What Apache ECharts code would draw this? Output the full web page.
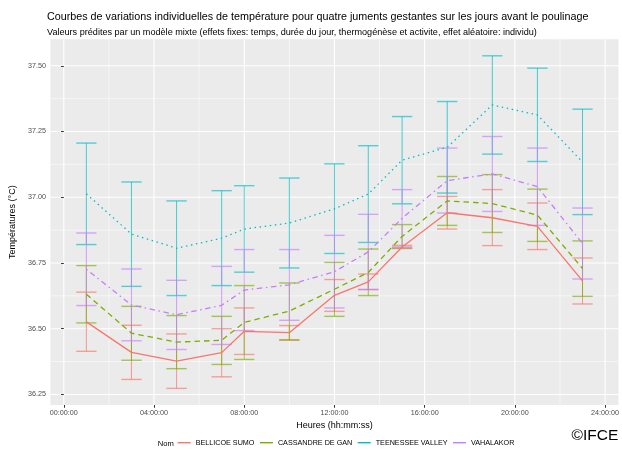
<!DOCTYPE html>
<html>
<head>
<meta charset="utf-8">
<script src="https://cdn.jsdelivr.net/npm/echarts@6/dist/echarts.min.js"></script>
<style>
html,body{margin:0;padding:0;background:#fff;}
#chart{width:622px;height:450px;}
</style>
</head>
<body>
<div id="chart"></div>
<script>
// ---- data ----
const times = [1, 3, 5, 7, 8, 10, 12, 13.5, 15, 17, 19, 21, 23];
const seriesNames = ['BELLICOE SUMO', 'CASSANDRE DE GAN', 'TEENESSEE VALLEY', 'VAHALAKOR'];

const bellicoeMean = [36.526, 36.410, 36.377, 36.409, 36.490, 36.485, 36.627, 36.678, 36.811, 36.941, 36.922, 36.889, 36.682];
const bellicoeLow  = [36.414, 36.307, 36.273, 36.317, 36.402, 36.456, 36.566, 36.649, 36.805, 36.879, 36.816, 36.801, 36.594];
const bellicoeHigh = [36.639, 36.513, 36.480, 36.500, 36.579, 36.512, 36.687, 36.708, 36.817, 37.003, 37.029, 36.978, 36.769];

const cassandreMean = [36.631, 36.483, 36.449, 36.456, 36.524, 36.567, 36.650, 36.714, 36.851, 36.986, 36.976, 36.932, 36.729];
const cassandreLow  = [36.522, 36.380, 36.348, 36.364, 36.383, 36.458, 36.547, 36.626, 36.807, 36.893, 36.866, 36.832, 36.623];
const cassandreHigh = [36.740, 36.585, 36.550, 36.547, 36.664, 36.674, 36.752, 36.803, 36.896, 37.079, 37.086, 37.031, 36.834];

const teenesseeMean = [37.013, 36.860, 36.806, 36.844, 36.879, 36.902, 36.956, 37.012, 37.141, 37.190, 37.351, 37.313, 37.134];
const teenesseeLow  = [36.820, 36.661, 36.626, 36.664, 36.715, 36.731, 36.786, 36.828, 36.975, 37.016, 37.164, 37.136, 36.934];
const teenesseeHigh = [37.206, 37.058, 36.986, 37.025, 37.044, 37.073, 37.127, 37.196, 37.307, 37.364, 37.538, 37.491, 37.335];

const vahalakorMean = [36.726, 36.590, 36.553, 36.589, 36.647, 36.667, 36.717, 36.792, 36.920, 37.063, 37.089, 37.040, 36.824];
const vahalakorLow  = [36.588, 36.454, 36.421, 36.440, 36.493, 36.532, 36.579, 36.649, 36.811, 36.940, 36.946, 36.893, 36.689];
const vahalakorHigh = [36.864, 36.727, 36.684, 36.737, 36.801, 36.801, 36.855, 36.935, 37.029, 37.187, 37.231, 37.187, 36.959];

const xTicks = [0, 4, 8, 12, 16, 20, 24];
const xTickLabels = ['00:00:00', '04:00:00', '08:00:00', '12:00:00', '16:00:00', '20:00:00', '24:00:00'];
const xMinor = [2, 6, 10, 14, 18, 22];
const yTicks = [36.25, 36.5, 36.75, 37.0, 37.25, 37.5];
const yTickLabels = ['36.25', '36.50', '36.75', '37.00', '37.25', '37.50'];
const yMinor = [36.375, 36.625, 36.875, 37.125, 37.375];

const titleText = 'Courbes de variations individuelles de température pour quatre juments gestantes sur les jours avant le poulinage';
const subtitleText = 'Valeurs prédites par un modèle mixte (effets fixes: temps, durée du jour, thermogénèse et activite, effet aléatoire: individu)';
const xTitle = 'Heures (hh:mm:ss)';
const yTitle = 'Températures (°C)';
const legendTitle = 'Nom';
const credit = '©IFCE';

// ---- styling ----
const FONT = '"Liberation Sans", Arial, sans-serif';
const colors = ['#F8766D', '#7CAE00', '#00BFC4', '#C77CFF'];
const dashes = [null, [5.5, 4], [1.5, 3.6], [1.5, 3.6, 5.5, 3.6]];
const capHalf = 0.45;
const X_MIN = -0.595, X_MAX = 24.595;
const Y_MIN = 36.2098, Y_MAX = 37.6007;

const means = [bellicoeMean, cassandreMean, teenesseeMean, vahalakorMean];
const lows = [bellicoeLow, cassandreLow, teenesseeLow, vahalakorLow];
const highs = [bellicoeHigh, cassandreHigh, teenesseeHigh, vahalakorHigh];

const chart = echarts.init(document.getElementById('chart'), null, {renderer: 'canvas'});

function gridV(params, api) {
  const cs = params.coordSys;
  const x = api.coord([api.value(0), Y_MIN])[0];
  const major = api.value(1) === 1;
  return {type: 'line', shape: {x1: x, y1: cs.y, x2: x, y2: cs.y + cs.height},
    style: {stroke: '#ffffff', lineWidth: major ? 1.1 : 0.55}, silent: true};
}
function gridH(params, api) {
  const cs = params.coordSys;
  const y = api.coord([X_MIN, api.value(1)])[1];
  const major = api.value(0) === 1;
  return {type: 'line', shape: {x1: cs.x, y1: y, x2: cs.x + cs.width, y2: y},
    style: {stroke: '#ffffff', lineWidth: major ? 1.1 : 0.55}, silent: true};
}
function makeErrRender(color) {
  return function (params, api) {
    const t = api.value(0), lo = api.value(1), hi = api.value(2);
    const pTop = api.coord([t, hi]);
    const pBot = api.coord([t, lo]);
    const xl = api.coord([t - capHalf, hi])[0];
    const xr = api.coord([t + capHalf, hi])[0];
    const st = {stroke: color, lineWidth: 1, opacity: 0.72};
    const stc = {stroke: color, lineWidth: 1.4, opacity: 0.65};
    return {type: 'group', children: [
      {type: 'line', shape: {x1: pTop[0], y1: pTop[1], x2: pBot[0], y2: pBot[1]}, style: st},
      {type: 'line', shape: {x1: xl, y1: pTop[1], x2: xr, y2: pTop[1]}, style: stc},
      {type: 'line', shape: {x1: xl, y1: pBot[1], x2: xr, y2: pBot[1]}, style: stc}
    ]};
  };
}

const series = [];
series.push({
  type: 'custom', name: '_gv', silent: true, z: 0,
  data: xTicks.map(v => [v, 1]).concat(xMinor.map(v => [v, 0])),
  encode: {x: 0, y: 1}, renderItem: gridV, clip: true
});
series.push({
  type: 'custom', name: '_gh', silent: true, z: 0,
  data: yTicks.map(v => [1, v]).concat(yMinor.map(v => [0, v])),
  encode: {x: 0, y: 1}, renderItem: gridH, clip: true
});
seriesNames.forEach((n, k) => {
  series.push({
    type: 'line', name: n, z: 5,
    data: times.map((t, i) => [t, means[k][i]]),
    symbol: 'none', showSymbol: false,
    lineStyle: {color: colors[k], width: 1.3, type: dashes[k] || 'solid', cap: 'butt'},
    itemStyle: {color: colors[k]},
    animation: false
  });
});
seriesNames.forEach((n, k) => {
  series.push({
    type: 'custom', name: n, z: 3,
    data: times.map((t, i) => [t, lows[k][i], highs[k][i]]),
    encode: {x: 0, y: [1, 2]},
    renderItem: makeErrRender(colors[k]),
    itemStyle: {color: colors[k]},
    animation: false
  });
});

const option = {
  animation: false,
  textStyle: {fontFamily: FONT},
  title: [
    {text: titleText, left: 47, top: 10.9, padding: 0,
     textStyle: {fontFamily: FONT, fontSize: 10.75, fontWeight: 'normal', color: '#000', lineHeight: 13}},
    {text: subtitleText, left: 47, top: 26.8, padding: 0,
     textStyle: {fontFamily: FONT, fontSize: 9.1, fontWeight: 'normal', color: '#000', lineHeight: 11}}
  ],
  grid: {left: 47.5, right: 2, top: 39.3, bottom: 45, show: true,
    backgroundColor: '#EBEBEB', borderWidth: 0, containLabel: false},
  xAxis: {
    type: 'value', min: X_MIN, max: X_MAX,
    name: xTitle, nameLocation: 'middle', nameGap: 16,
    nameTextStyle: {fontFamily: FONT, fontSize: 9, color: '#000'},
    axisLine: {show: false},
    axisTick: {show: true, length: 2.75, customValues: xTicks, lineStyle: {color: '#333333', width: 1}},
    axisLabel: {customValues: xTicks, margin: 4.2, fontFamily: FONT, fontSize: 7.2, color: '#4D4D4D',
      formatter: function (v) { const i = xTicks.indexOf(v); return i >= 0 ? xTickLabels[i] : ''; }},
    splitLine: {show: false}
  },
  yAxis: {
    type: 'value', min: Y_MIN, max: Y_MAX,
    name: yTitle, nameLocation: 'middle', nameGap: 25, nameRotate: 90,
    nameTextStyle: {fontFamily: FONT, fontSize: 9, color: '#000'},
    axisLine: {show: false},
    axisTick: {show: true, length: 2.75, customValues: yTicks, lineStyle: {color: '#333333', width: 1}},
    axisLabel: {customValues: yTicks, margin: 4.5, fontFamily: FONT, fontSize: 7.2, color: '#4D4D4D',
      formatter: function (v) { let i = -1; yTicks.forEach((t, j) => { if (Math.abs(t - v) < 1e-6) i = j; }); return i >= 0 ? yTickLabels[i] : ''; }},
    splitLine: {show: false}
  },
  legend: {
    data: seriesNames, left: 177, top: 437.5, orient: 'horizontal',
    itemWidth: 13, itemHeight: 13, itemGap: 4.8, padding: 0,
    itemStyle: {opacity: 0},
    lineStyle: {width: 1.4, type: 'solid'},
    textStyle: {fontFamily: FONT, fontSize: 7.2, color: '#000'},
    selectedMode: false
  },
  graphic: [
    {type: 'text', left: 157.8, top: 440, silent: true,
     style: {text: legendTitle, fontFamily: FONT, fontSize: 7.6, fill: '#000'}},
    {type: 'text', left: 571.5, top: 427.5, silent: true,
     style: {text: credit, fontFamily: FONT, fontSize: 15.5, fill: '#000'}}
  ],
  series: series
};
chart.setOption(option);
</script>
</body>
</html>
